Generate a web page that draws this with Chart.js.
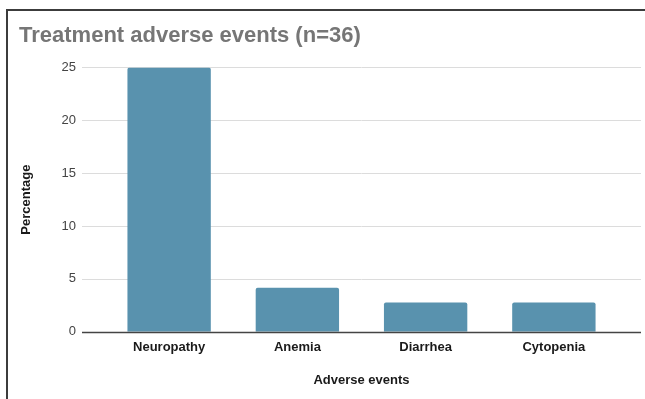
<!DOCTYPE html>
<html>
<head>
<meta charset="utf-8">
<script src="https://cdn.jsdelivr.net/npm/chart.js@4.4.0/dist/chart.umd.min.js"></script>
<style>
  html, body { margin: 0; padding: 0; background: #fff; overflow: hidden; }
  #myChart { display: block; }
</style>
</head>
<body>
<canvas id="myChart" width="645" height="399"></canvas>
<script>
const categories = ["Neuropathy", "Anemia", "Diarrhea", "Cytopenia"];
const percentages = [25, 4.17, 2.78, 2.78];
const yTicks = [0, 5, 10, 15, 20, 25];

// grid lines run a bit past the plot on both sides, like the original
const gridLines = {
  id: "gridLines",
  beforeDraw(chart) {
    // the cropped frame: only the top and left edges show
    const { ctx, width, height } = chart;
    ctx.save();
    ctx.strokeStyle = "#3c3c3c";
    ctx.lineWidth = 2;
    ctx.beginPath();
    ctx.moveTo(width, 10);
    ctx.lineTo(7, 10);
    ctx.lineTo(7, height);
    ctx.stroke();
    ctx.restore();
  },
  beforeDatasetsDraw(chart) {
    const { ctx, chartArea, scales } = chart;
    ctx.save();
    ctx.lineWidth = 1;
    ctx.strokeStyle = "#dcdcdc";
    yTicks.slice(1).forEach((v) => {
      const y = Math.round(scales.y.getPixelForValue(v)) + 0.5;
      ctx.beginPath();
      ctx.moveTo(chartArea.left - 23, y);
      ctx.lineTo(chartArea.right + 23, y);
      ctx.stroke();
    });
    ctx.restore();
  },
  afterDatasetsDraw(chart) {
    const { ctx, chartArea, scales } = chart;
    const y = Math.round(scales.y.getPixelForValue(0)) + 0.5;
    ctx.save();
    ctx.lineWidth = 1.3;
    ctx.strokeStyle = "#444";
    ctx.beginPath();
    ctx.moveTo(chartArea.left - 23, y);
    ctx.lineTo(chartArea.right + 23, y);
    ctx.stroke();
    ctx.restore();
  },
};

const ctx = document.getElementById("myChart");

new Chart(ctx, {
  type: "bar",
  data: {
    labels: categories,
    datasets: [
      {
        label: "Percentage",
        data: percentages,
        backgroundColor: "#5992ae",
        borderRadius: { topLeft: 2, topRight: 2 },
        borderSkipped: "bottom",
        categoryPercentage: 1,
        barPercentage: 0.65,
      },
    ],
  },
  options: {
    responsive: false,
    animation: false,
    layout: { padding: { left: 19, right: 27, top: 23, bottom: 11 } },
    plugins: {
      legend: { display: false },
      tooltip: { enabled: false },
      title: {
        display: true,
        text: "Treatment adverse events (n=36)",
        align: "start",
        color: "#767676",
        font: { family: "Liberation Sans, Arial, sans-serif", size: 22, weight: "bold" },
        padding: { top: 0, bottom: 18 },
      },
    },
    scales: {
      x: {
        grid: { display: false },
        border: { display: false },
        ticks: {
          color: "#1a1a1a",
          padding: 0,
          font: { family: "Liberation Sans, Arial, sans-serif", size: 13, weight: "bold" },
        },
        title: {
          display: true,
          text: "Adverse events",
          color: "#1a1a1a",
          padding: { top: 17, bottom: 0 },
          font: { family: "Liberation Sans, Arial, sans-serif", size: 13, weight: "bold" },
        },
      },
      y: {
        min: 0,
        max: 25,
        grid: { display: false },
        border: { display: false },
        afterFit(scale) {
          scale.width = 86;
        },
        ticks: {
          stepSize: 5,
          color: "#444",
          padding: 21,
          font: { family: "Liberation Sans, Arial, sans-serif", size: 13 },
        },
        title: {
          display: true,
          text: "Percentage",
          color: "#1a1a1a",
          padding: { top: 0, bottom: 0 },
          font: { family: "Liberation Sans, Arial, sans-serif", size: 13, weight: "bold" },
        },
      },
    },
  },
  plugins: [gridLines],
});
</script>
</body>
</html>
